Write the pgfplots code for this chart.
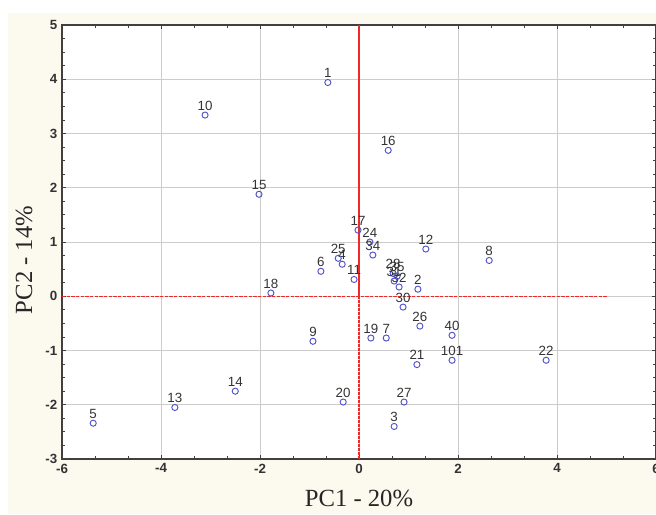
\documentclass[border=0pt]{standalone}
\usepackage{pgfplots}
\pgfplotsset{compat=1.18}
\usepackage{fontspec}
\setmainfont{Liberation Sans}
\newfontfamily\serifax{Liberation Serif}
\definecolor{bgbeige}{HTML}{FCF9EE}
\definecolor{framegray}{HTML}{404040}
\definecolor{markblue}{HTML}{5252C8}
\definecolor{labgray}{HTML}{333333}
\definecolor{refred}{HTML}{F02828}
\begin{document}
\begin{tikzpicture}
\useasboundingbox (0,0) rectangle (492pt,385.5pt);
\fill[white] (0,0) rectangle (492pt,385.5pt);
\fill[bgbeige] (6pt,0) rectangle (492pt,375.75pt);
\begin{axis}[
    scale only axis,
    width=445.5pt, height=325.5pt,
    at={(46.5pt,41.25pt)}, anchor=south west,
    xmin=-6, xmax=6, ymin=-3, ymax=5,
    xtick={-6,-4,...,6}, ytick={-3,-2,...,5},
    minor x tick num=2, minor y tick num=3,
    tick align=inside, xtick pos=both, ytick pos=both,
    major tick length=3pt, minor tick length=2pt,
    tick style={framegray, line width=0.6pt},
    grid=major, major grid style={gray!40, line width=0.6pt},
    axis line style={framegray, line width=1.2pt},
    axis background/.style={fill=white},
    /pgf/number format/assume math mode=true,
    ticklabel style={font=\fontsize{10}{10}\selectfont\bfseries, text=labgray},
    xlabel={PC1 - 20\%}, ylabel={PC2 - 14\%},
    xlabel style={font=\serifax\fontsize{18.5}{18.5}\selectfont, text=black!85,
        at={(axis description cs:0.5,-0.09)}, anchor=center},
    ylabel style={font=\serifax\fontsize{18.5}{18.5}\selectfont, text=black!85,
        at={(axis description cs:-0.064,0.4585)}, anchor=center},
    clip=false,
]
% reference lines through the origin
\addplot[draw=refred, line width=1.2pt] coordinates {(0,0) (0,5)};
\addplot[draw=refred, line width=0.8pt, dash pattern=on 2pt off 1pt] coordinates {(0,-3) (0,0)};
\addplot[draw=refred, line width=0.8pt, dash pattern=on 2.5pt off 1pt] coordinates {(-6,0) (5,0)};
% scores
\addplot[only marks, mark=o, mark size=2.3pt, mark options={markblue, line width=0.7pt},
    point meta=explicit symbolic, nodes near coords,
    every node near coord/.style={font=\fontsize{10}{10}\selectfont, text=labgray,
        anchor=south, inner sep=0pt, yshift=3.2pt}]
table[x=x, y=y, meta=label] {
x y label
-0.63 3.94 1
1.19 0.13 2
0.71 -2.40 3
-0.34 0.59 4
-5.37 -2.34 5
-0.77 0.46 6
0.55 -0.77 7
2.63 0.66 8
-0.93 -0.83 9
-3.11 3.34 10
-0.10 0.31 11
1.35 0.87 12
-3.72 -2.05 13
-2.50 -1.75 14
-2.02 1.88 15
0.59 2.69 16
-0.02 1.22 17
-1.78 0.06 18
0.24 -0.77 19
-0.32 -1.95 20
1.17 -1.26 21
3.78 -1.18 22
0.22 1.00 24
-0.42 0.70 25
1.23 -0.55 26
0.91 -1.95 27
0.69 0.42 28
0.89 -0.20 30
0.71 0.28 31
0.81 0.17 32
0.28 0.76 34
0.77 0.37 35
1.88 -0.72 40
1.88 -1.18 101
};
\end{axis}
\end{tikzpicture}
\end{document}
